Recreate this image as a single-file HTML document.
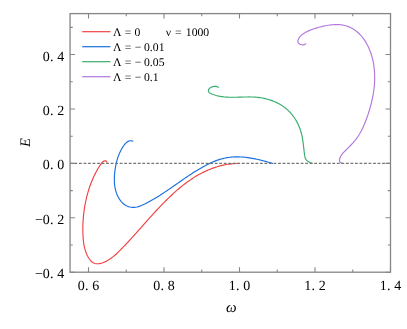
<!DOCTYPE html><html><head><meta charset="utf-8"><style>html,body{margin:0;padding:0;background:#fff}svg{display:block;will-change:transform}text{text-rendering:geometricPrecision;font-family:"Liberation Serif",serif;fill:#000}</style></head><body>
<svg width="407" height="329" viewBox="0 0 407 329">
<rect width="407" height="329" fill="#fff"/><g>
<path d="M106.92 162.02 L105.87 160.87 L104.58 160.80 L103.34 161.37 L102.27 162.27 L101.32 163.41 L100.45 164.67 L99.62 165.96 L98.81 167.26 L98.02 168.56 L97.26 169.88 L96.52 171.20 L95.81 172.53 L95.12 173.87 L94.46 175.21 L93.81 176.56 L93.19 177.92 L92.59 179.29 L92.01 180.66 L91.45 182.04 L90.91 183.43 L90.39 184.82 L89.89 186.22 L89.41 187.63 L88.95 189.04 L88.51 190.46 L88.08 191.89 L87.68 193.32 L87.28 194.76 L86.91 196.20 L86.55 197.65 L86.21 199.10 L85.88 200.56 L85.57 202.03 L85.28 203.49 L85.01 204.96 L84.75 206.44 L84.50 207.92 L84.28 209.40 L84.07 210.88 L83.87 212.37 L83.70 213.86 L83.54 215.35 L83.39 216.84 L83.26 218.33 L83.15 219.82 L83.06 221.32 L82.98 222.81 L82.92 224.31 L82.87 225.80 L82.84 227.30 L82.83 228.79 L82.84 230.28 L82.86 231.77 L82.90 233.26 L82.95 234.74 L83.02 236.23 L83.11 237.71 L83.22 239.18 L83.36 240.66 L83.54 242.13 L83.74 243.60 L83.99 245.06 L84.28 246.52 L84.62 247.97 L85.01 249.42 L85.45 250.86 L85.96 252.30 L86.53 253.73 L87.16 255.15 L87.88 256.57 L88.66 257.95 L89.52 259.27 L90.46 260.47 L91.48 261.53 L92.58 262.41 L93.76 263.08 L95.02 263.52 L96.34 263.75 L97.71 263.80 L99.13 263.68 L100.56 263.41 L102.02 263.00 L103.47 262.48 L104.91 261.85 L106.34 261.15 L107.73 260.37 L109.07 259.55 L110.36 258.70 L111.61 257.80 L112.82 256.88 L113.99 255.93 L115.13 254.95 L116.25 253.96 L117.34 252.94 L118.41 251.91 L119.47 250.87 L120.52 249.81 L121.56 248.76 L122.60 247.70 L123.63 246.63 L124.66 245.56 L125.68 244.49 L126.70 243.41 L127.71 242.33 L128.72 241.24 L129.73 240.15 L130.73 239.06 L131.73 237.97 L132.73 236.87 L133.72 235.77 L134.72 234.66 L135.71 233.56 L136.70 232.45 L137.69 231.34 L138.68 230.23 L139.66 229.12 L140.65 228.01 L141.64 226.90 L142.62 225.78 L143.61 224.67 L144.60 223.56 L145.59 222.44 L146.58 221.33 L147.57 220.21 L148.57 219.10 L149.56 217.99 L150.56 216.88 L151.56 215.77 L152.57 214.66 L153.57 213.55 L154.59 212.44 L155.60 211.34 L156.62 210.24 L157.65 209.14 L158.68 208.05 L159.71 206.95 L160.75 205.87 L161.79 204.78 L162.84 203.70 L163.90 202.62 L164.96 201.55 L166.03 200.48 L167.11 199.42 L168.19 198.36 L169.27 197.31 L170.37 196.27 L171.47 195.24 L172.58 194.21 L173.69 193.19 L174.81 192.18 L175.94 191.18 L177.07 190.19 L178.21 189.21 L179.36 188.25 L180.52 187.29 L181.68 186.34 L182.86 185.41 L184.04 184.49 L185.22 183.58 L186.42 182.69 L187.62 181.81 L188.83 180.95 L190.05 180.10 L191.28 179.26 L192.52 178.44 L193.77 177.64 L195.02 176.86 L196.28 176.09 L197.56 175.34 L198.84 174.61 L200.13 173.90 L201.43 173.20 L202.74 172.53 L204.06 171.87 L205.39 171.24 L206.72 170.63 L208.07 170.04 L209.43 169.47 L210.80 168.92 L212.18 168.40 L213.57 167.90 L214.96 167.42 L216.37 166.97 L217.79 166.54 L219.23 166.14 L220.67 165.76 L222.12 165.41 L223.58 165.09 L225.06 164.79 L226.55 164.52 L228.04 164.28 L229.55 164.07 L231.07 163.88 L232.61 163.73 L234.15 163.60 L235.71 163.51 L237.28 163.45 L238.86 163.41" fill="none" stroke="#F14040" stroke-width="1.15" stroke-linecap="round" stroke-linejoin="round"/>
<path d="M132.78 141.17 L131.34 140.76 L129.98 140.75 L128.71 141.08 L127.51 141.70 L126.40 142.55 L125.35 143.59 L124.37 144.77 L123.46 146.05 L122.60 147.38 L121.80 148.71 L121.06 150.05 L120.37 151.40 L119.73 152.75 L119.13 154.12 L118.58 155.49 L118.07 156.87 L117.60 158.26 L117.17 159.66 L116.78 161.08 L116.42 162.50 L116.10 163.94 L115.80 165.38 L115.53 166.85 L115.28 168.32 L115.06 169.81 L114.86 171.31 L114.69 172.82 L114.55 174.34 L114.45 175.86 L114.37 177.39 L114.34 178.91 L114.35 180.43 L114.40 181.95 L114.49 183.46 L114.64 184.96 L114.83 186.45 L115.08 187.92 L115.39 189.37 L115.75 190.81 L116.17 192.22 L116.66 193.61 L117.22 194.97 L117.84 196.31 L118.53 197.61 L119.30 198.87 L120.15 200.11 L121.07 201.30 L122.08 202.44 L123.16 203.50 L124.33 204.47 L125.58 205.32 L126.90 206.03 L128.29 206.59 L129.73 207.01 L131.19 207.28 L132.65 207.41 L134.11 207.38 L135.56 207.23 L136.99 206.95 L138.42 206.58 L139.84 206.11 L141.24 205.57 L142.64 204.97 L144.02 204.33 L145.40 203.65 L146.76 202.95 L148.11 202.24 L149.44 201.52 L150.77 200.79 L152.09 200.05 L153.39 199.29 L154.69 198.53 L155.98 197.76 L157.26 196.98 L158.53 196.19 L159.80 195.39 L161.06 194.59 L162.31 193.78 L163.56 192.96 L164.80 192.14 L166.04 191.31 L167.27 190.48 L168.50 189.64 L169.73 188.80 L170.95 187.96 L172.17 187.11 L173.39 186.27 L174.61 185.42 L175.82 184.57 L177.04 183.72 L178.26 182.87 L179.47 182.02 L180.69 181.17 L181.91 180.32 L183.13 179.47 L184.36 178.63 L185.58 177.79 L186.81 176.96 L188.05 176.12 L189.29 175.30 L190.53 174.47 L191.78 173.66 L193.04 172.85 L194.30 172.04 L195.57 171.25 L196.85 170.46 L198.13 169.68 L199.42 168.91 L200.73 168.14 L202.04 167.39 L203.36 166.65 L204.69 165.93 L206.02 165.22 L207.37 164.53 L208.72 163.86 L210.09 163.21 L211.46 162.58 L212.84 161.97 L214.22 161.40 L215.62 160.85 L217.02 160.33 L218.43 159.84 L219.85 159.39 L221.28 158.97 L222.71 158.59 L224.15 158.25 L225.60 157.95 L227.05 157.68 L228.52 157.46 L229.98 157.28 L231.46 157.13 L232.93 157.02 L234.41 156.94 L235.90 156.90 L237.38 156.89 L238.87 156.91 L240.37 156.96 L241.86 157.04 L243.35 157.15 L244.85 157.28 L246.34 157.44 L247.83 157.63 L249.32 157.84 L250.81 158.07 L252.30 158.33 L253.78 158.60 L255.26 158.89 L256.74 159.20 L258.21 159.53 L259.67 159.87 L261.13 160.23 L262.58 160.60 L264.03 160.99 L265.47 161.38 L266.90 161.79 L268.32 162.20 L269.73 162.63 L271.13 163.06 L272.53 163.49" fill="none" stroke="#1A6FDF" stroke-width="1.15" stroke-linecap="round" stroke-linejoin="round"/>
<path d="M218.32 87.35 L217.17 86.67 L215.72 86.33 L214.11 86.35 L212.46 86.70 L210.90 87.37 L209.61 88.30 L208.72 89.41 L208.36 90.61 L208.54 91.74 L209.27 92.67 L210.44 93.42 L211.84 94.03 L213.30 94.57 L214.77 95.05 L216.24 95.46 L217.71 95.83 L219.19 96.15 L220.67 96.42 L222.15 96.64 L223.63 96.83 L225.11 96.98 L226.60 97.09 L228.08 97.18 L229.57 97.23 L231.06 97.26 L232.55 97.28 L234.05 97.27 L235.54 97.25 L237.04 97.22 L238.53 97.18 L240.03 97.13 L241.52 97.09 L243.02 97.04 L244.52 97.00 L246.01 96.97 L247.51 96.95 L249.01 96.94 L250.51 96.95 L252.00 96.99 L253.50 97.04 L254.99 97.13 L256.49 97.24 L257.98 97.39 L259.47 97.57 L260.96 97.79 L262.45 98.04 L263.92 98.34 L265.39 98.66 L266.86 99.03 L268.31 99.43 L269.74 99.87 L271.17 100.35 L272.58 100.86 L273.97 101.41 L275.34 102.00 L276.70 102.63 L278.03 103.30 L279.34 104.00 L280.63 104.75 L281.89 105.53 L283.12 106.36 L284.33 107.22 L285.50 108.13 L286.65 109.07 L287.76 110.06 L288.83 111.08 L289.87 112.15 L290.87 113.25 L291.84 114.39 L292.77 115.56 L293.66 116.76 L294.52 117.99 L295.34 119.26 L296.12 120.54 L296.85 121.86 L297.55 123.19 L298.21 124.55 L298.83 125.92 L299.41 127.31 L299.95 128.72 L300.44 130.14 L300.89 131.57 L301.30 133.02 L301.66 134.47 L301.99 135.92 L302.28 137.39 L302.55 138.86 L302.78 140.33 L303.00 141.81 L303.19 143.29 L303.38 144.77 L303.55 146.26 L303.71 147.74 L303.88 149.23 L304.05 150.71 L304.22 152.19 L304.40 153.67 L304.60 155.14 L304.85 156.59 L305.22 157.98 L305.81 159.25 L306.68 160.38 L307.83 161.33 L309.18 162.13 L310.66 162.77 L312.19 163.27" fill="none" stroke="#37AD6B" stroke-width="1.15" stroke-linecap="round" stroke-linejoin="round"/>
<path d="M305.70 43.78 L304.50 44.60 L302.95 44.91 L301.29 44.76 L299.76 44.20 L298.59 43.29 L297.92 42.11 L297.84 40.80 L298.26 39.46 L298.95 38.18 L299.79 36.99 L300.76 35.90 L301.84 34.90 L303.01 33.98 L304.27 33.13 L305.59 32.35 L306.97 31.64 L308.39 30.98 L309.82 30.37 L311.27 29.80 L312.71 29.27 L314.13 28.77 L315.54 28.30 L316.94 27.87 L318.34 27.45 L319.74 27.07 L321.15 26.71 L322.57 26.37 L324.00 26.05 L325.45 25.76 L326.91 25.48 L328.39 25.24 L329.89 25.03 L331.39 24.85 L332.90 24.71 L334.41 24.61 L335.92 24.57 L337.43 24.57 L338.94 24.63 L340.44 24.76 L341.92 24.94 L343.40 25.20 L344.86 25.53 L346.30 25.93 L347.72 26.40 L349.11 26.95 L350.48 27.57 L351.81 28.24 L353.11 28.98 L354.37 29.78 L355.58 30.63 L356.76 31.53 L357.89 32.49 L358.98 33.49 L360.02 34.53 L361.03 35.62 L362.00 36.75 L362.92 37.91 L363.81 39.12 L364.66 40.35 L365.47 41.61 L366.24 42.91 L366.97 44.22 L367.67 45.56 L368.33 46.93 L368.96 48.31 L369.55 49.71 L370.10 51.12 L370.62 52.54 L371.11 53.97 L371.56 55.41 L371.98 56.85 L372.37 58.30 L372.72 59.75 L373.05 61.21 L373.34 62.67 L373.61 64.13 L373.84 65.60 L374.04 67.07 L374.22 68.54 L374.37 70.01 L374.48 71.49 L374.58 72.97 L374.64 74.45 L374.68 75.93 L374.69 77.42 L374.68 78.90 L374.64 80.39 L374.58 81.87 L374.50 83.36 L374.39 84.84 L374.26 86.33 L374.11 87.81 L373.93 89.30 L373.74 90.78 L373.52 92.26 L373.28 93.74 L373.03 95.22 L372.75 96.70 L372.46 98.17 L372.14 99.64 L371.81 101.11 L371.47 102.57 L371.10 104.03 L370.72 105.49 L370.33 106.94 L369.91 108.39 L369.49 109.84 L369.05 111.28 L368.60 112.71 L368.13 114.14 L367.65 115.56 L367.16 116.98 L366.66 118.39 L366.14 119.80 L365.61 121.20 L365.07 122.58 L364.50 123.96 L363.92 125.33 L363.32 126.68 L362.70 128.02 L362.05 129.35 L361.38 130.67 L360.68 131.96 L359.96 133.24 L359.20 134.51 L358.42 135.75 L357.61 136.98 L356.76 138.18 L355.88 139.36 L354.96 140.53 L354.01 141.67 L353.03 142.80 L352.02 143.91 L350.99 145.01 L349.93 146.11 L348.86 147.20 L347.76 148.29 L346.65 149.38 L345.53 150.48 L344.42 151.58 L343.35 152.71 L342.36 153.85 L341.46 155.02 L340.70 156.23 L340.09 157.49 L339.67 158.79 L339.47 160.14 L339.64 161.46 L340.44 162.59 L342.16 163.36" fill="none" stroke="#B177DE" stroke-width="1.15" stroke-linecap="round" stroke-linejoin="round"/>
<line x1="70.05" y1="163.40" x2="390.50" y2="163.40" stroke="#757575" stroke-width="1.15" stroke-dasharray="2.800 1.724" stroke-dashoffset="0.098"/>
<path d="M88.50 272.20V267.20M88.50 13.60V18.60M126.25 272.20V269.50M126.25 13.60V16.30M164.00 272.20V267.20M164.00 13.60V18.60M201.75 272.20V269.50M201.75 13.60V16.30M239.50 272.20V267.20M239.50 13.60V18.60M277.25 272.20V269.50M277.25 13.60V16.30M315.00 272.20V267.20M315.00 13.60V18.60M352.75 272.20V269.50M352.75 13.60V16.30M390.50 272.20V267.20M390.50 13.60V18.60M70.05 272.24H75.05M390.50 272.24H385.50M70.05 245.03H72.75M390.50 245.03H387.80M70.05 217.82H75.05M390.50 217.82H385.50M70.05 190.61H72.75M390.50 190.61H387.80M70.05 163.40H75.05M390.50 163.40H385.50M70.05 136.19H72.75M390.50 136.19H387.80M70.05 108.98H75.05M390.50 108.98H385.50M70.05 81.77H72.75M390.50 81.77H387.80M70.05 54.56H75.05M390.50 54.56H385.50M70.05 27.35H72.75M390.50 27.35H387.80" stroke="#858585" stroke-width="1.1" fill="none"/>
<rect x="70.05" y="13.60" width="320.45" height="258.60" fill="none" stroke="#858585" stroke-width="1.3"/>
<text x="81.17" y="290.40" font-size="14" text-anchor="middle">0</text><text x="86.73" y="290.40" font-size="14" text-anchor="middle">.</text><text x="95.83" y="290.40" font-size="14" text-anchor="middle">6</text>
<text x="156.67" y="290.40" font-size="14" text-anchor="middle">0</text><text x="162.24" y="290.40" font-size="14" text-anchor="middle">.</text><text x="171.33" y="290.40" font-size="14" text-anchor="middle">8</text>
<text x="232.17" y="290.40" font-size="14" text-anchor="middle">1</text><text x="237.74" y="290.40" font-size="14" text-anchor="middle">.</text><text x="246.83" y="290.40" font-size="14" text-anchor="middle">0</text>
<text x="307.67" y="290.40" font-size="14" text-anchor="middle">1</text><text x="313.23" y="290.40" font-size="14" text-anchor="middle">.</text><text x="322.33" y="290.40" font-size="14" text-anchor="middle">2</text>
<text x="383.17" y="290.40" font-size="14" text-anchor="middle">1</text><text x="388.73" y="290.40" font-size="14" text-anchor="middle">.</text><text x="397.83" y="290.40" font-size="14" text-anchor="middle">4</text>
<text x="38.84" y="278.19" font-size="14" text-anchor="middle">−</text><text x="46.17" y="278.19" font-size="14" text-anchor="middle">0</text><text x="51.74" y="278.19" font-size="14" text-anchor="middle">.</text><text x="60.84" y="278.19" font-size="14" text-anchor="middle">4</text>
<text x="38.84" y="223.77" font-size="14" text-anchor="middle">−</text><text x="46.17" y="223.77" font-size="14" text-anchor="middle">0</text><text x="51.74" y="223.77" font-size="14" text-anchor="middle">.</text><text x="60.84" y="223.77" font-size="14" text-anchor="middle">2</text>
<text x="46.17" y="169.35" font-size="14" text-anchor="middle">0</text><text x="51.74" y="169.35" font-size="14" text-anchor="middle">.</text><text x="60.84" y="169.35" font-size="14" text-anchor="middle">0</text>
<text x="46.17" y="114.93" font-size="14" text-anchor="middle">0</text><text x="51.74" y="114.93" font-size="14" text-anchor="middle">.</text><text x="60.84" y="114.93" font-size="14" text-anchor="middle">2</text>
<text x="46.17" y="60.51" font-size="14" text-anchor="middle">0</text><text x="51.74" y="60.51" font-size="14" text-anchor="middle">.</text><text x="60.84" y="60.51" font-size="14" text-anchor="middle">4</text>
<text x="231.2" y="312.4" font-size="15" font-style="italic" text-anchor="middle">ω</text>
<text transform="translate(29.7,142.6) rotate(-90)" font-size="14.6" font-style="italic" text-anchor="middle">E</text>
<line x1="82.2" y1="31.70" x2="110.4" y2="31.70" stroke="#F14040" stroke-width="1.2"/>
<text x="117.35" y="35.80" font-size="11.7" text-anchor="middle">Λ</text>
<text x="128.00" y="35.80" font-size="11.7" text-anchor="middle">=</text>
<text x="137.40" y="35.80" font-size="11.7" text-anchor="middle">0</text>
<line x1="82.2" y1="46.70" x2="110.4" y2="46.70" stroke="#1A6FDF" stroke-width="1.2"/>
<text x="117.35" y="50.80" font-size="11.7" text-anchor="middle">Λ</text>
<text x="128.00" y="50.80" font-size="11.7" text-anchor="middle">=</text>
<text x="137.95" y="50.80" font-size="11.7" text-anchor="middle">−</text>
<text x="154.25" y="50.80" font-size="11.7" text-anchor="middle">0.01</text>
<line x1="82.2" y1="61.70" x2="110.4" y2="61.70" stroke="#37AD6B" stroke-width="1.2"/>
<text x="117.35" y="65.80" font-size="11.7" text-anchor="middle">Λ</text>
<text x="128.00" y="65.80" font-size="11.7" text-anchor="middle">=</text>
<text x="137.95" y="65.80" font-size="11.7" text-anchor="middle">−</text>
<text x="154.25" y="65.80" font-size="11.7" text-anchor="middle">0.05</text>
<line x1="82.2" y1="76.70" x2="110.4" y2="76.70" stroke="#B177DE" stroke-width="1.2"/>
<text x="117.35" y="80.80" font-size="11.7" text-anchor="middle">Λ</text>
<text x="128.00" y="80.80" font-size="11.7" text-anchor="middle">=</text>
<text x="137.95" y="80.80" font-size="11.7" text-anchor="middle">−</text>
<text x="151.30" y="80.80" font-size="11.7" text-anchor="middle">0.1</text>
<text x="168.40" y="35.80" font-size="11.7" text-anchor="middle">ν</text><text x="178.25" y="35.80" font-size="11.7" text-anchor="middle">=</text><text x="197.50" y="35.80" font-size="11.7" text-anchor="middle">1000</text>
</g></svg></body></html>
